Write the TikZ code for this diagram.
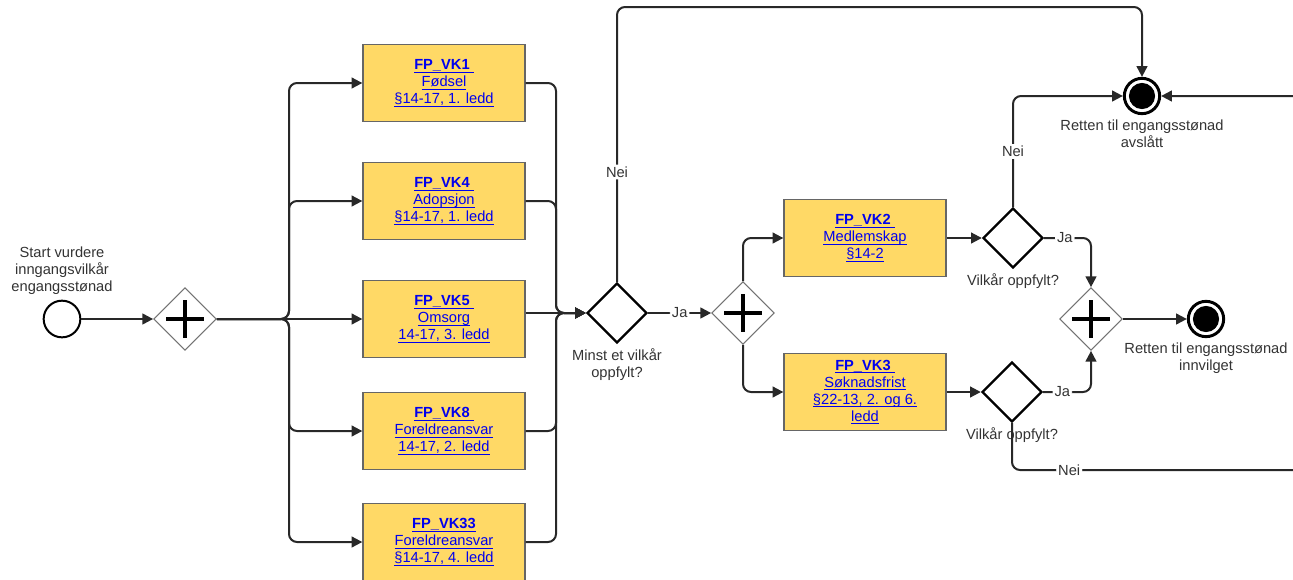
\documentclass[tikz,border=0pt]{standalone}
\usepackage{fontspec}
\setmainfont{Liberation Sans}
\usepackage{tikz}
\usetikzlibrary{shapes,backgrounds,positioning,arrows.meta}
\usepackage{xcolor}
\definecolor{taskfill}{RGB}{255,217,102}
\definecolor{linkblue}{RGB}{0,0,238}
\definecolor{edgegray}{RGB}{40,40,40}
\newcommand{\ulnk}[1]{\setbox0\hbox{#1}\rlap{\rule[-2pt]{\wd0}{0.6pt}}\box0}

\begin{document}
\begin{tikzpicture}[x=0.75pt, y=-0.75pt]
            \tikzstyle{task} = [rectangle, draw=black!60, line width=1pt, fill=taskfill, minimum width=121.5pt, minimum height=57.75pt, inner sep=0pt, align=center, text=linkblue, font=\fontsize{11}{12.75}\selectfont]
            \tikzstyle{xgate} = [diamond, draw=black, line width=1.8pt, minimum width=45pt, minimum height=45pt, inner sep=0pt]
            \tikzstyle{pgate} = [diamond, draw=black!55, line width=0.8pt, minimum width=47pt, minimum height=47pt, inner sep=0pt,
                path picture={\draw[draw=black, line width=2.8pt] ([xshift=-14pt]path picture bounding box.center) -- ([xshift=14pt]path picture bounding box.center)
                    ([yshift=-14pt]path picture bounding box.center) -- ([yshift=14pt]path picture bounding box.center);}]
            \tikzstyle{startev} = [circle, draw=black, line width=1.5pt, minimum size=27.5pt, inner sep=0pt]
            \tikzstyle{endev} = [circle, draw=black, line width=2.2pt, minimum size=26.5pt, inner sep=0pt,
                path picture={\fill[black] (path picture bounding box.center) circle (9.8pt);}]
            \tikzstyle{flow} = [draw=edgegray, line width=1.5pt, rounded corners=6pt, -{Triangle[length=8pt, width=8pt]}]
            \tikzstyle{lbl} = [fill=white, inner sep=1.5pt, text=black!80, font=\fontsize{11}{12.75}\selectfont]
            \tikzstyle{caption} = [align=center, text=black!80, font=\fontsize{11}{12.75}\selectfont]
            \useasboundingbox (0, 0) rectangle (1293, 579);
            \clip (0, 0) rectangle (1293, 579);
            % start and first split
            \node[startev, label={[caption, label distance=0pt]above:{Start vurdere\\inngangsvilkår\\engangsstønad}}] (start) at (62, 319) {};
            \node[pgate] (split) at (185, 319) {};
            \coordinate (fork) at (289, 319);
            % the five conditions
            \node[task] (vk1) at (444, 83) {\textbf{\ulnk{FP\_VK1 }}\\\ulnk{Fødsel}\\\ulnk{§14-17, 1. ledd}};
            \node[task] (vk4) at (444, 201) {\textbf{\ulnk{FP\_VK4 }}\\\ulnk{Adopsjon}\\\ulnk{§14-17, 1. ledd}};
            \node[task] (vk5) at (444, 319) {\textbf{\ulnk{FP\_VK5 }}\\\ulnk{Omsorg}\\\ulnk{14-17, 3. ledd}};
            \node[task] (vk8) at (444, 431) {\textbf{\ulnk{FP\_VK8 }}\\\ulnk{Foreldreansvar}\\\ulnk{14-17, 2. ledd}};
            \node[task] (vk33) at (444, 542) {\textbf{\ulnk{FP\_VK33}}\\\ulnk{Foreldreansvar}\\\ulnk{§14-17, 4. ledd}};
            \coordinate (join) at (556, 313);
            % decision and second split
            \node[xgate, label={[caption]below:{Minst et vilkår\\oppfylt?}}] (minst) at (617, 313) {};
            \coordinate (top) at (617, 7);
            \node[pgate] (split2) at (743, 313) {};
            \node[task] (vk2) at (865, 238) {\textbf{\ulnk{FP\_VK2 }}\\\ulnk{Medlemskap}\\\ulnk{§14-2}};
            \node[task] (vk3) at (865, 392) {\textbf{\ulnk{FP\_VK3 }}\\\ulnk{Søknadsfrist}\\\ulnk{§22-13, 2. og 6.}\\\ulnk{ledd}};
            \node[xgate, label={[caption]below:{Vilkår oppfylt?}}] (ok2) at (1013, 238) {};
            \node[xgate, label={[caption]below:{Vilkår oppfylt?}}] (ok3) at (1012, 392) {};
            \node[pgate] (merge) at (1091, 319) {};
            \coordinate (back) at (1330, 470);
            % end events
            \node[endev, label={[caption]below:{Retten til engangsstønad\\avslått}}] (avslatt) at (1142, 96) {};
            \node[endev, label={[caption]below:{Retten til engangsstønad\\innvilget}}] (innvilget) at (1206, 319) {};
            % flows
            \draw[flow] (start) -- (split);
            \draw[flow] (split.east) -- (fork) |- (vk1.west);
            \draw[flow] (split.east) -- (fork) |- (vk4.west);
            \draw[flow] (split.east) -- (vk5.west);
            \draw[flow] (split.east) -- (fork) |- (vk8.west);
            \draw[flow] (split.east) -- (fork) |- (vk33.west);
            \draw[flow] (vk1.east) -| (join) -- (minst.west);
            \draw[flow] (vk4.east) -| (join) -- (minst.west);
            \draw[flow] (vk5.east |- minst.west) -- (minst.west);
            \draw[flow] (vk8.east) -| (join) -- (minst.west);
            \draw[flow] (vk33.east) -| (join) -- (minst.west);
            \draw[flow] (minst.north) -- node[lbl, pos=0.4] {Nei} (top) -| (avslatt.north);
            \draw[flow] (minst.east) -- node[lbl] {Ja} (split2.west);
            \draw[flow] (split2.north) |- (vk2.west);
            \draw[flow] (split2.south) |- (vk3.west);
            \draw[flow] (vk2.east) -- (ok2.west);
            \draw[flow] (vk3.east) -- (ok3.west);
            \draw[flow] (ok2.east) -| node[lbl, pos=0.22] {Ja} (merge.north);
            \draw[flow] (ok3.east) -| node[lbl, pos=0.2] {Ja} (merge.south);
            \draw[flow] (ok2.north) |- node[lbl, pos=0.25] {Nei} (avslatt.west);
            \draw[flow] (ok3.south) |- node[lbl, pos=0.59] {Nei} (back) |- (avslatt.east);
            \draw[flow] (merge.east) -- (innvilget.west);
        \end{tikzpicture}
\end{document}
